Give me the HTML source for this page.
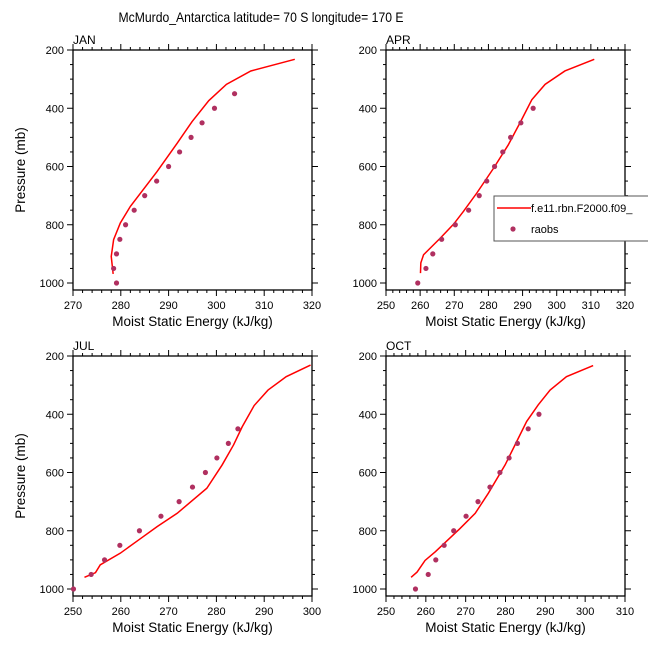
<!DOCTYPE html>
<html><head><meta charset="utf-8"><style>
body{margin:0;background:#fff}
svg text{font-family:"Liberation Sans",Arial,sans-serif;fill:#000}
</style></head><body>
<svg id="chart" width="648" height="649" xmlns="http://www.w3.org/2000/svg">
<text x="261" y="22" font-size="14" text-anchor="middle" textLength="285" lengthAdjust="spacingAndGlyphs">McMurdo_Antarctica  latitude= 70 S longitude= 170 E</text>
</svg>
<script>
// ---- data ----
const panelNames = ["JAN","APR","JUL","OCT"];
const janModelP = [232,272,318,374,446,520,617,737,794,851,909,969];
const janModelE = [316.4,307.2,302.1,298.4,294.9,291.8,287.6,282,279.9,278.5,278.0,278.4];
const aprModelP = [232,272,318,371,451,526,606,691,754,798,846,903,931,966];
const aprModelE = [311,302.4,296.6,292.7,289.2,285.8,281.5,276.6,272.7,269.8,265.9,261,260.2,260.1];
const julModelP = [231,271,317,370,443,505,574,654,740,786,832,877,917,944,960];
const julModelE = [299.7,294.6,290.8,287.9,285.4,283.6,281.2,278,271.8,267.6,263.7,259.9,255.7,254.7,252.4];
const octModelP = [233,271,317,368,425,494,574,671,740,792,872,902,942,960];
const octModelE = [302,295.3,291.2,288.2,285.3,282.8,279.9,275.7,272.4,268.6,262.4,259.8,257.8,256.3];
const janObsP = [1000,950,900,850,800,750,700,650,600,550,500,450,400,350];
const janObsE = [279.1,278.5,279.1,279.8,281,282.8,285,287.5,290,292.3,294.7,297,299.6,303.8];
const aprObsP = [1000,950,900,850,800,750,700,650,600,550,500,450,400];
const aprObsE = [259.3,261.7,263.7,266.3,270.3,274.2,277.3,279.5,281.8,284.2,286.5,289.5,293.1];
const julObsP = [1000,950,900,850,800,750,700,650,600,550,500,450];
const julObsE = [250.1,253.8,256.6,259.8,263.9,268.4,272.2,275,277.7,280.1,282.5,284.5];
const octObsP = [1000,950,900,850,800,750,700,650,600,550,500,450,400];
const octObsE = [257.4,260.6,262.5,264.6,267,270.1,273.1,276.1,278.6,280.9,283,285.7,288.4];
const xRanges = [[270,320],[250,320],[250,300],[250,310]];
const yTicks = [200,400,600,800,1000];

const NS="http://www.w3.org/2000/svg";
const svg=document.getElementById('chart');
function mk(tag,attrs,parent){const e=document.createElementNS(NS,tag);for(const k in attrs)e.setAttribute(k,attrs[k]);(parent||svg).appendChild(e);return e;}
const boxes=[{x0:73,x1:312,y0:50},{x0:386,x1:625,y0:50},{x0:73,x1:312,y0:356},{x0:386,x1:625,y0:356}];
const models=[[janModelP,janModelE],[aprModelP,aprModelE],[julModelP,julModelE],[octModelP,octModelE]];
const obs=[[janObsP,janObsE],[aprObsP,aprObsE],[julObsP,julObsE],[octObsP,octObsE]];
const pxPerMb=233/800;
boxes.forEach((b,i)=>{
  const g=mk('g',{});
  
  
  const [xmin,xmax]=xRanges[i];
  const xs=v=>b.x0+(v-xmin)/(xmax-xmin)*(b.x1-b.x0);
  const ys=p=>b.y0+(p-200)*pxPerMb;
  const y1=b.y0+240;
  // ticks x
  for(let v=xmin;v<=xmax;v+=2){
    const maj=(v%10===0), x=xs(v), L=maj?6:3;
    mk('line',{x1:x,x2:x,y1:b.y0,y2:b.y0-L,stroke:'#000','stroke-width':1},g);
    mk('line',{x1:x,x2:x,y1:y1,y2:y1+L,stroke:'#000','stroke-width':1},g);
    if(maj){const t=mk('text',{x:x,y:y1+19,'font-size':11,'text-anchor':'middle'},g);t.textContent=v;
      
      }
  }
  for(let p=200;p<=1000;p+=50){
    const maj=(p%200===0), y=ys(p), L=maj?6:3;
    mk('line',{x1:b.x0,x2:b.x0-L,y1:y,y2:y,stroke:'#000','stroke-width':1},g);
    mk('line',{x1:b.x1,x2:b.x1+L,y1:y,y2:y,stroke:'#000','stroke-width':1},g);
  }
  yTicks.forEach(p=>{const t=mk('text',{x:b.x0-9,y:ys(p)+4,'font-size':11,'text-anchor':'end'},g);t.textContent=p;
    
    });
  mk('rect',{x:b.x0,y:b.y0,width:b.x1-b.x0,height:240,fill:'none',stroke:'#000','stroke-width':1.3},g);
  const lbl=mk('text',{x:b.x0,y:b.y0-6,'font-size':12},g);lbl.textContent=panelNames[i];
  
  
  const xl=mk('text',{x:(b.x0+b.x1)/2,y:y1+36,'font-size':13.5,'text-anchor':'middle'},g);xl.textContent='Moist Static Energy (kJ/kg)';
  
  
  if(i%2===0){const yl=mk('text',{x:0,y:0,'font-size':13.5,'text-anchor':'middle',transform:`translate(${b.x0-48},${b.y0+120}) rotate(-90)`},g);yl.textContent='Pressure (mb)';
    
    }
  const [mp,me]=models[i];
  const pl=mk('polyline',{points:mp.map((p,k)=>xs(me[k])+','+ys(p)).join(' '),fill:'none',stroke:'#ff0000','stroke-width':1.5},g);
  
  
  const [op,oe]=obs[i];
  op.forEach((p,k)=>{const c=mk('circle',{cx:xs(oe[k]),cy:ys(p),r:2.6,fill:'#b03060'},g);
    
    });
});
// legend
const lg=mk('g',{});


mk('rect',{x:494,y:196,width:160,height:45,fill:'#fff',stroke:'#555','stroke-width':1},lg);
mk('line',{x1:497,x2:531,y1:208,y2:208,stroke:'#ff0000','stroke-width':1.5},lg);
const t1=mk('text',{x:531,y:212,'font-size':11},lg);t1.textContent='f.e11.rbn.F2000.f09_';


mk('circle',{cx:513,cy:229,r:2.6,fill:'#b03060'},lg);
const t2=mk('text',{x:531,y:233,'font-size':11},lg);t2.textContent='raobs';


</script>
</body></html>
